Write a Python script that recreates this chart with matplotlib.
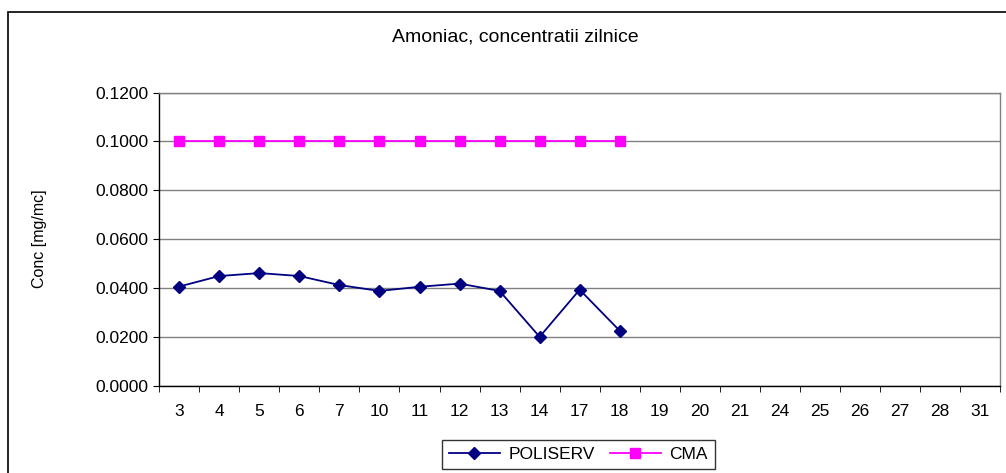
import matplotlib.pyplot as plt
from matplotlib.patches import Rectangle
from matplotlib.ticker import FixedLocator, NullFormatter

plt.rcParams['font.family'] = ['Liberation Sans', 'DejaVu Sans']

# zile (categorii pe axa X)
zile = ['3', '4', '5', '6', '7', '10', '11', '12', '13', '14', '17', '18',
        '19', '20', '21', '24', '25', '26', '27', '28', '31']
# concentratii masurate, doar primele 12 zile au valori
poliserv = [0.0406, 0.0449, 0.0461, 0.0449, 0.0412, 0.0388, 0.0405, 0.0418,
            0.0388, 0.0200, 0.0393, 0.0225]
cma = [0.1] * 12
y_ticks = [0.0, 0.02, 0.04, 0.06, 0.08, 0.10, 0.12]

fig = plt.figure(figsize=(10.06, 4.73), dpi=100)
ax = fig.add_axes([0.1583, 0.1846, 0.8358, 0.6196])

x = list(range(len(zile)))
ax.plot(x[:len(poliserv)], poliserv, color='#000080', marker='D', markersize=6.5,
        linewidth=1.3, label='POLISERV', zorder=3)
ax.plot(x[:len(cma)], cma, color='#FF00FF', marker='s', markersize=6.5,
        linewidth=1.3, label='CMA', zorder=3)

ax.set_xlim(-0.5, len(zile) - 0.5)
ax.set_ylim(0, 0.12)
ax.set_yticks(y_ticks)
ax.set_yticklabels([f'{v:.4f}' for v in y_ticks], fontsize=12.5)
ax.yaxis.grid(True, color='#808080', linewidth=1)
ax.set_axisbelow(True)

ax.set_xticks(x)
ax.set_xticklabels(zile, fontsize=12.5)
ax.tick_params(axis='x', which='major', length=0, pad=13)
ax.xaxis.set_minor_locator(FixedLocator([i - 0.5 for i in range(len(zile) + 1)]))
ax.xaxis.set_minor_formatter(NullFormatter())
ax.tick_params(axis='x', which='minor', length=4, direction='out', color='black')
ax.tick_params(axis='y', length=4, direction='out', pad=4)

ax.spines['left'].set_color('black')
ax.spines['bottom'].set_color('black')
ax.spines['top'].set_color('#808080')
ax.spines['right'].set_color('#808080')
for s in ax.spines.values():
    s.set_linewidth(1)

ax.set_ylabel('Conc [mg/mc]', fontsize=11.5)
ax.yaxis.set_label_coords(-0.1334, 0.5)
fig.text(0.512, 0.922, 'Amoniac, concentratii zilnice', ha='center', va='center',
         fontsize=14)

leg = fig.legend(loc='upper center', bbox_to_anchor=(0.575, 0.088), ncol=2,
                 fontsize=12.5, frameon=True, fancybox=False, edgecolor='black',
                 handlelength=2.9, columnspacing=0.9, handletextpad=0.5,
                 borderpad=0.4)
leg.get_frame().set_linewidth(1)

# chenarul exterior al graficului
fig.patches.append(Rectangle((0.0077, -0.2), 1.2, 1.2 - 0.0247, transform=fig.transFigure,
                             fill=False, edgecolor='black', linewidth=1.2))

fig.savefig('out.png', dpi=100)
